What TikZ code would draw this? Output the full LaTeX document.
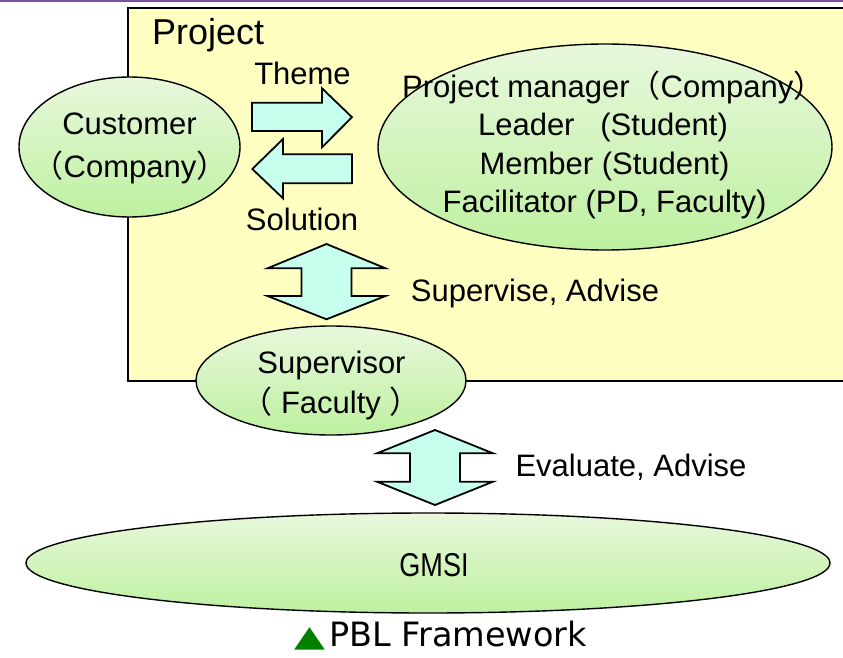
\documentclass[tikz,border=0pt]{standalone}
\usepackage{fontspec}
\setmainfont{Liberation Sans}
\newfontfamily\cjkfont{Noto Sans CJK JP}
\newfontfamily\capfont{DejaVu Sans}
\usetikzlibrary{shapes.geometric}

% full-width parentheses
\newcommand\fwl{{\cjkfont （}}
\newcommand\fwr{{\cjkfont ）}}

\definecolor{rule}{HTML}{8050A0}
\definecolor{panelfill}{HTML}{FFFFC2}
\definecolor{blobtop}{HTML}{E8F8DC}
\definecolor{blobbot}{HTML}{BEF0A0}
\definecolor{arrowfill}{HTML}{C6FFEE}
\definecolor{capgreen}{HTML}{008000}

\begin{document}
\begin{tikzpicture}[x=1pt,y=-1pt,
  blob/.style={ellipse, draw=black, line width=1.4pt, top color=blobtop,
    bottom color=blobbot, inner sep=0pt},
  txt/.style={anchor=base, inner sep=0pt, font=\fontsize{31}{38}\selectfont},
  blockarrow/.style={draw=black, fill=arrowfill, line width=1.8pt, line join=miter},
  panel/.style={draw=black, fill=panelfill, line width=1.4pt}]

\useasboundingbox (0,0) rectangle (843,658);

% top rule
\fill[rule] (0,0) rectangle (843,2.2);

% project area (runs past the right edge)
\draw[panel] (128,8) rectangle (860,381);
\node[anchor=base west, inner sep=0pt, font=\fontsize{36}{40}\selectfont] (projtitle) at (152,45) {Project};

% customer
\node[blob, minimum width=221, minimum height=140] (cust) at (129.5,147) {};
\node[txt] (cust1) at (129.5,135) {Customer};
\node[txt] (cust2) at (130,177) {\fwl Company\fwr};

% project team
\node[blob, minimum width=454, minimum height=206] (team) at (605,147) {};
\node[txt, anchor=base west] (team1) at (402,97.5) {Project manager\fwl Company\fwr};
\node[txt] (team2) at (603,135.8) {Leader\ \ \ (Student)};
\node[txt] (team3) at (604.5,174.1) {Member (Student)};
\node[txt] (team4) at (604.5,212.4) {Facilitator (PD, Faculty)};

% supervisor
\node[blob, minimum width=270, minimum height=109] (sup) at (331,380.5) {};
\node[txt] (sup1) at (331.5,373) {Supervisor};
\node[txt] (sup2) at (331,413) {\fwl\ Faculty\ \fwr};

% school
\node[blob, minimum width=804, minimum height=100] (gmsi) at (428,563) {};
\node[txt] (gmsi1) at (434,576) {\scalebox{0.82}[1]{\fontsize{33}{38}\selectfont GMSI}};

% theme / solution exchange
\draw[blockarrow] (252,102.7) -- (322,102.7) -- (322,88.3) -- (352,117.2)
  -- (322,147.3) -- (322,131) -- (252,131) -- cycle;
\draw[blockarrow] (352,154.3) -- (283,154.3) -- (283,139) -- (252.3,169)
  -- (283,198.3) -- (283,183.3) -- (352,183.3) -- cycle;
\node[txt] (theme) at (302.5,85) {Theme};
\node[txt] (solution) at (302,230) {Solution};

% supervise / advise
\draw[blockarrow] (326.5,244) -- (385.5,268.3) -- (351.5,268.3) -- (351.5,296)
  -- (385.5,296) -- (326.5,319.3) -- (267.5,296) -- (301.5,296) -- (301.5,268.3)
  -- (267.5,268.3) -- cycle;
\node[txt] (supadv) at (535,301) {Supervise, Advise};

% evaluate / advise
\draw[blockarrow] (435,430) -- (493,453.3) -- (460,453.3) -- (460,481.7)
  -- (493,481.7) -- (435,505) -- (377,481.7) -- (410,481.7) -- (410,453.3)
  -- (377,453.3) -- cycle;
\node[txt] (evaladv) at (631,476) {Evaluate, Advise};

% caption
\node[anchor=base west, inner sep=0pt, font=\capfont\fontsize{33.5}{38}\selectfont] (caption) at (294,646)
  {{\color{capgreen}\scalebox{1.2}[0.88]{▲}}\hspace{4pt}PBL Framework};

\end{tikzpicture}
\end{document}
